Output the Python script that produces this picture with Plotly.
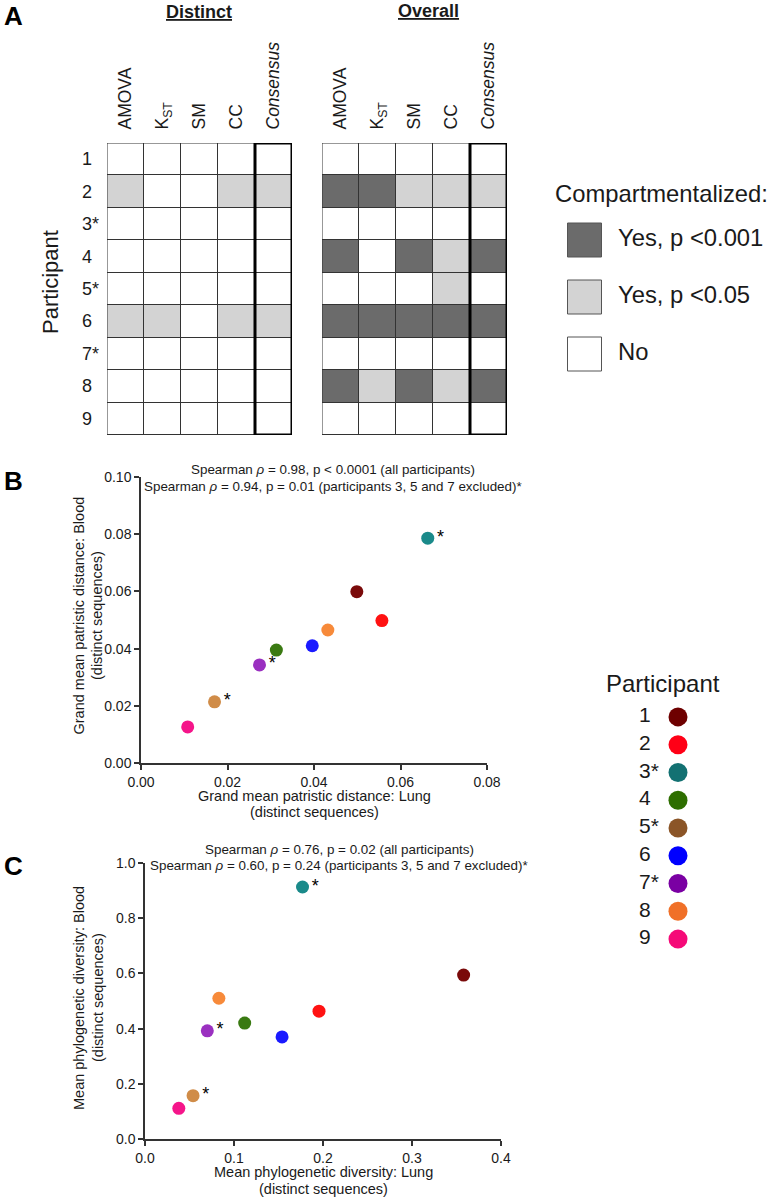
import plotly.graph_objects as go

W, H = 772, 1199
FONT = "Liberation Sans, Arial, Helvetica, sans-serif"

# ---------------- data ----------------
participants = ["1", "2", "3*", "4", "5*", "6", "7*", "8", "9"]
methods = ["AMOVA", "K<sub>ST</sub>", "SM", "CC", "<i>Consensus</i>"]
# codes: 0 = No, 1 = Yes p<0.05, 2 = Yes p<0.001
distinct = [
    [0, 0, 0, 0, 0],
    [1, 0, 0, 1, 1],
    [0, 0, 0, 0, 0],
    [0, 0, 0, 0, 0],
    [0, 0, 0, 0, 0],
    [1, 1, 0, 1, 1],
    [0, 0, 0, 0, 0],
    [0, 0, 0, 0, 0],
    [0, 0, 0, 0, 0],
]
overall = [
    [0, 0, 0, 0, 0],
    [2, 2, 1, 1, 1],
    [0, 0, 0, 0, 0],
    [2, 0, 2, 1, 2],
    [0, 0, 0, 1, 0],
    [2, 2, 2, 2, 2],
    [0, 0, 0, 0, 0],
    [2, 1, 2, 1, 2],
    [0, 0, 0, 0, 0],
]
levels = ["No", "Yes, p <0.05", "Yes, p <0.001"]
legend_order = [2, 1, 0]

patristic_lung = [0.0499, 0.0557, 0.0663, 0.0313, 0.0170, 0.0396, 0.0274, 0.0432, 0.0108]
patristic_blood = [0.0599, 0.0498, 0.0786, 0.0395, 0.0214, 0.0410, 0.0343, 0.0465, 0.0126]
pd_lung = [0.358, 0.1955, 0.177, 0.112, 0.054, 0.154, 0.070, 0.083, 0.038]
pd_blood = [0.594, 0.463, 0.913, 0.420, 0.157, 0.370, 0.392, 0.510, 0.111]

spearman_b = ["Spearman <i>ρ</i> = 0.98, p < 0.0001 (all participants)",
              "Spearman <i>ρ</i> = 0.94, p = 0.01 (participants 3, 5 and 7 excluded)*"]
spearman_c = ["Spearman <i>ρ</i> = 0.76, p = 0.02 (all participants)",
              "Spearman <i>ρ</i> = 0.60, p = 0.24 (participants 3, 5 and 7 excluded)*"]
title_b_x = ["Grand mean patristic distance: Lung", "(distinct sequences)"]
title_b_y = ["Grand mean patristic distance: Blood", "(distinct sequences)"]
title_c_x = ["Mean phylogenetic diversity: Lung", "(distinct sequences)"]
title_c_y = ["Mean phylogenetic diversity: Blood", "(distinct sequences)"]

# ---------------- styles ----------------
level_colors = ["#ffffff", "#d3d3d3", "#6b6b6b"]
plot_colors = ["#7a0a0a", "#ff1212", "#1a8a8a", "#3a7a12", "#d08c48",
               "#1a1aff", "#9a30c0", "#f78a3a", "#f5158a"]
legend_colors = ["#6e0000", "#ff0016", "#137172", "#2e6e00", "#8b5527",
                 "#0000ff", "#7a00a3", "#f07028", "#f50a78"]
TXT = "#1a1a1a"
AX = "#333333"


def px(x):
    return x / W


def py(y):
    return 1 - y / H


starred = [i for i, p in enumerate(participants) if p.endswith("*")]
cscale = [[0, level_colors[0]], [0.333, level_colors[0]],
          [0.333, level_colors[1]], [0.667, level_colors[1]],
          [0.667, level_colors[2]], [1, level_colors[2]]]

fig = go.Figure()

# ---- Panel A heatmaps ----
for z, xa, ya in [(distinct, "x", "y"), (overall, "x2", "y2")]:
    fig.add_trace(go.Heatmap(
        z=z, x=list(range(len(methods))), y=list(range(len(participants))),
        colorscale=cscale, zmin=0, zmax=2, showscale=False,
        xgap=1, ygap=1, hoverinfo="skip", xaxis=xa, yaxis=ya))

# ---- Panels B and C ----
for xs, ys, xa, ya in [(patristic_lung, patristic_blood, "x3", "y3"),
                       (pd_lung, pd_blood, "x4", "y4")]:
    fig.add_trace(go.Scatter(
        x=xs, y=ys, mode="markers",
        marker=dict(size=13, color=plot_colors, line=dict(width=0)),
        cliponaxis=False, hoverinfo="skip", xaxis=xa, yaxis=ya, showlegend=False))
    fig.add_trace(go.Scatter(
        x=[xs[i] for i in starred], y=[ys[i] for i in starred], mode="markers+text",
        marker=dict(size=13, color="rgba(0,0,0,0)"),
        text=["*"] * len(starred), textposition="middle right",
        textfont=dict(size=18, color="#000", family=FONT),
        cliponaxis=False, hoverinfo="skip", xaxis=xa, yaxis=ya, showlegend=False))

# ---- Compartmentalized legend ----
n_lv = len(legend_order)
fig.add_trace(go.Scatter(
    x=[584.5] * n_lv, y=list(range(1, n_lv + 1)), mode="markers",
    marker=dict(symbol="square", size=34, color=[level_colors[c] for c in legend_order],
                line=dict(width=1, color="#555")),
    cliponaxis=False, hoverinfo="skip", xaxis="x5", yaxis="y5", showlegend=False))
fig.add_trace(go.Scatter(
    x=[618] * n_lv, y=list(range(1, n_lv + 1)), mode="text",
    text=[levels[c] for c in legend_order], textposition="middle right",
    textfont=dict(size=23.8, color=TXT, family=FONT),
    cliponaxis=False, hoverinfo="skip", xaxis="x5", yaxis="y5", showlegend=False))

# ---- Participant legend ----
n_p = len(participants)
fig.add_trace(go.Scatter(
    x=[678] * n_p, y=list(range(1, n_p + 1)), mode="markers",
    marker=dict(size=19, color=legend_colors, line=dict(width=0)),
    cliponaxis=False, hoverinfo="skip", xaxis="x6", yaxis="y6", showlegend=False))
fig.add_trace(go.Scatter(
    x=[639] * n_p, y=list(range(1, n_p + 1)), mode="text",
    text=participants, textposition="middle right",
    textfont=dict(size=21, color=TXT, family=FONT),
    cliponaxis=False, hoverinfo="skip", xaxis="x6", yaxis="y6", showlegend=False))

hidden = dict(showgrid=False, zeroline=False, showline=False, showticklabels=False,
              ticks="", fixedrange=True, automargin=False)

heat_x = dict(range=[-0.5, len(methods) - 0.5], side="top", tickmode="array",
              tickvals=list(range(len(methods))), ticktext=methods, tickangle=-90,
              ticks="outside", ticklen=9, tickcolor="rgba(0,0,0,0)",
              tickfont=dict(size=17.5, color=TXT, family=FONT),
              showgrid=False, zeroline=False, showline=False, fixedrange=True,
              automargin=False)
heat_y = dict(hidden, range=[len(participants) - 0.5, -0.5],
              domain=[py(435), py(143)])

sc_common = dict(showgrid=False, zeroline=False, showline=True, linecolor=AX, linewidth=1.5,
                 ticks="outside", ticklen=5, tickwidth=1.5, tickcolor=AX,
                 tickfont=dict(size=14, color=TXT, family=FONT), fixedrange=True,
                 automargin=False)

fig.update_layout(
    width=W, height=H, margin=dict(l=0, r=0, t=0, b=0, autoexpand=False),
    paper_bgcolor="white", plot_bgcolor="white", showlegend=False,
    font=dict(family=FONT, color=TXT),
    xaxis=dict(heat_x, domain=[px(107), px(292)], anchor="y"),
    yaxis=dict(heat_y, anchor="x"),
    xaxis2=dict(heat_x, domain=[px(322), px(507)], anchor="y2"),
    yaxis2=dict(heat_y, anchor="x2"),
    xaxis3=dict(sc_common, domain=[px(141), px(487)], range=[0, 0.08], dtick=0.02,
                tickformat=".2f", anchor="y3"),
    yaxis3=dict(sc_common, domain=[py(763), py(477)], range=[0, 0.1], dtick=0.02,
                tickformat=".2f", anchor="x3"),
    xaxis4=dict(sc_common, domain=[px(145), px(501)], range=[0, 0.4], dtick=0.1,
                tickformat=".1f", anchor="y4"),
    yaxis4=dict(sc_common, domain=[py(1139), py(863)], range=[0, 1.0], dtick=0.2,
                tickformat=".1f", anchor="x4"),
    xaxis5=dict(hidden, domain=[px(556), px(772)], range=[556, 772], anchor="y5"),
    yaxis5=dict(hidden, domain=[py(382.5), py(211.5)], range=[n_lv + 0.5, 0.5], anchor="x5"),
    xaxis6=dict(hidden, domain=[px(620), px(720)], range=[620, 720], anchor="y6"),
    yaxis6=dict(hidden, domain=[py(953), py(703)], range=[n_p + 0.5, 0.5], anchor="x6"),
)

# grid shapes for heatmaps
shapes = []
for xr, yr in [("x", "y"), ("x2", "y2")]:
    shapes.append(dict(type="rect", xref=xr, yref=yr, x0=-0.5, x1=len(methods) - 0.5,
                       y0=-0.5, y1=len(participants) - 0.5, layer="below",
                       fillcolor="#333333", line=dict(width=0)))
    shapes.append(dict(type="rect", xref=xr, yref=yr, x0=-0.5, x1=len(methods) - 0.5,
                       y0=-0.5, y1=len(participants) - 0.5, layer="above",
                       fillcolor="rgba(0,0,0,0)", line=dict(width=1, color="#333333")))
    shapes.append(dict(type="rect", xref=xr, yref=yr, x0=len(methods) - 1.5,
                       x1=len(methods) - 0.5, y0=-0.5, y1=len(participants) - 0.5,
                       layer="above", fillcolor="rgba(0,0,0,0)",
                       line=dict(width=3, color="#000000")))
fig.update_layout(shapes=shapes)

ann = []


def add_text(x, y, text, size, bold=False, xanchor="center", angle=0, color=TXT):
    ann.append(dict(x=x, y=y, xref="paper", yref="paper",
                    text=("<b>%s</b>" % text) if bold else text,
                    showarrow=False, xanchor=xanchor, yanchor="middle", textangle=angle,
                    font=dict(size=size, color=color, family=FONT)))


add_text(px(14), py(16), "A", 26, bold=True, color="#000")
add_text(px(14), py(481), "B", 26, bold=True, color="#000")
add_text(px(14), py(866), "C", 26, bold=True, color="#000")
add_text(px(199), py(12), "<u>Distinct</u>", 18, bold=True)
add_text(px(428), py(11), "<u>Overall</u>", 18, bold=True)
add_text(px(50), py(282), "Participant", 22, angle=-90)
for i, p in enumerate(participants):
    ann.append(dict(x=px(80), y=i, xref="paper", yref="y", text=p, showarrow=False,
                    xanchor="left", yanchor="middle",
                    font=dict(size=18, color=TXT, family=FONT)))
add_text(px(553), py(193), "Compartmentalized:", 23.8, xanchor="left")
add_text(px(663), py(683), "Participant", 24)
add_text(px(333), py(470), spearman_b[0], 13.4)
add_text(px(333), py(487), spearman_b[1], 13.4)
add_text(px(339), py(849), spearman_c[0], 13.4)
add_text(px(339), py(866), spearman_c[1], 13.4)

# axis titles
AT = 14.5
add_text(px(314), py(796), title_b_x[0], AT)
add_text(px(314), py(812), title_b_x[1], AT)
add_text(px(78.5), py(616), title_b_y[0], AT, angle=-90)
add_text(px(97), py(616), title_b_y[1], AT, angle=-90)
add_text(px(323), py(1172), title_c_x[0], AT)
add_text(px(323), py(1189), title_c_x[1], AT)
add_text(px(79), py(998), title_c_y[0], AT, angle=-90)
add_text(px(98), py(998), title_c_y[1], AT, angle=-90)
fig.update_layout(annotations=ann)

fig.write_html("out.html", include_plotlyjs=True,
               config={"displayModeBar": False},
               post_script="document.body.style.margin='0';document.body.style.overflow='hidden';")
